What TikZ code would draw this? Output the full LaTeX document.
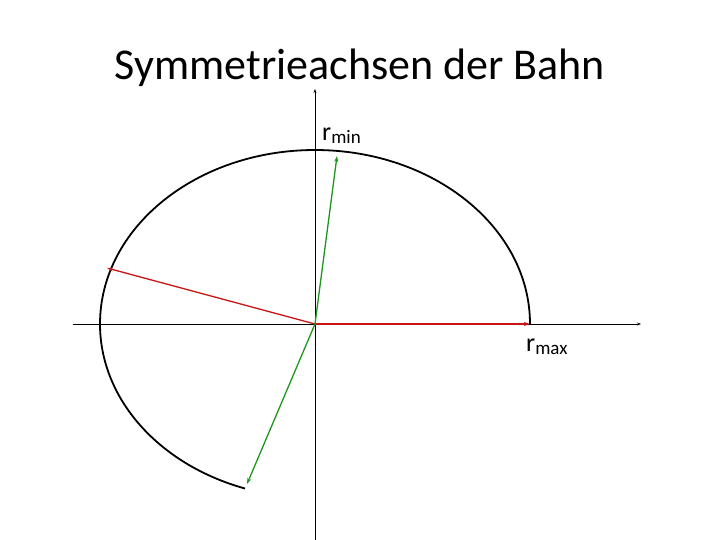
\documentclass[tikz,border=0pt]{standalone}
\usepackage{fontspec}
\setmainfont{Carlito}
\usetikzlibrary{arrows.meta}
\definecolor{vred}{RGB}{200,20,20}
\definecolor{vgreen}{RGB}{30,150,30}
\newcommand{\subtxt}[1]{\raisebox{-3pt}{\fontsize{19}{20}\selectfont #1}}
\begin{document}
\begin{tikzpicture}[x=1pt,y=-1pt,
  axis/.style={line width=0.9pt,-{Stealth[length=4pt,width=3pt]}},
  orbit/.style={line width=1.8pt},
  vec/.style={line width=1.3pt,-{Stealth[length=6pt,width=4pt]}},
  lbl/.style={inner sep=0pt,font=\fontsize{26}{28}\selectfont}]
\useasboundingbox (0,0) rectangle (720,540);
\node (title) at (360,68) {\fontsize{44}{50}\selectfont Symmetrieachsen der Bahn};
\coordinate (O) at (315,324);
\coordinate (xl) at (73,324);
\coordinate (xr) at (641,324);
\coordinate (yb) at (315,540);
\coordinate (yt) at (315,89);
\draw[axis] (xl) -- (xr);
\draw[axis] (yb) -- (yt);
\coordinate (pmax) at (530,324);
\draw[orbit] (pmax) arc[start angle=0,end angle=251,x radius=215pt,y radius=174pt];
\coordinate (pmin) at (337,156);
\coordinate (pl) at (107,268);
\coordinate (pb) at (247,484);
\draw[vec,vred] (O) -- (pmax);
\draw[vec,vred] (O) -- (pl);
\draw[vec,vgreen] (O) -- (pmin);
\draw[vec,vgreen] (O) -- (pb);
\node[lbl,anchor=base west] (rmin) at (322,141) {r\subtxt{min}};
\node[lbl,anchor=base west] (rmax) at (526,351) {r\subtxt{max}};
\end{tikzpicture}
\end{document}
